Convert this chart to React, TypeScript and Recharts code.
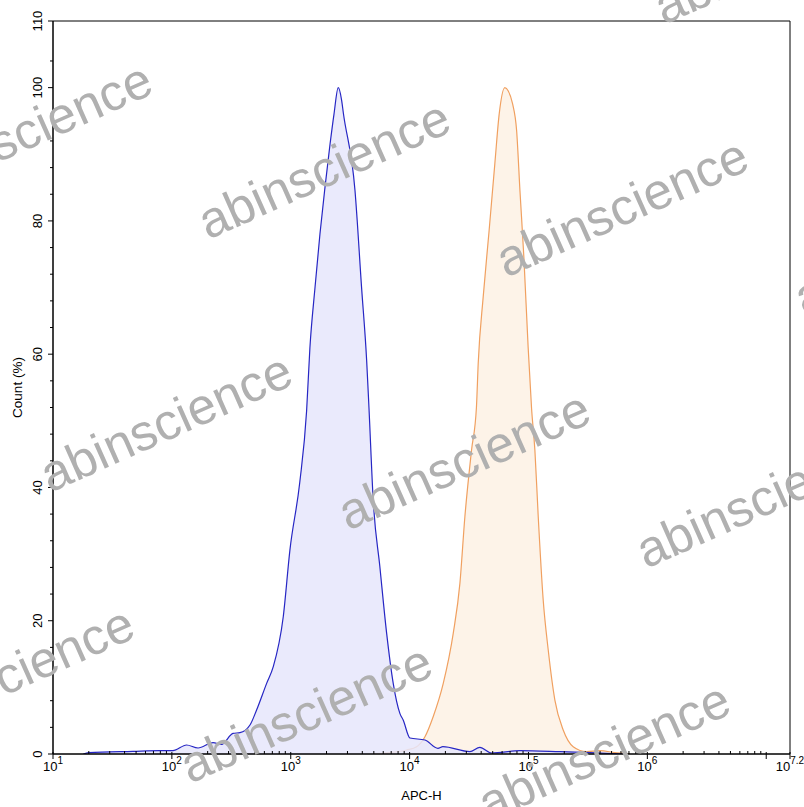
import { ComposedChart, Area, XAxis, YAxis, ReferenceArea } from 'recharts'

// APC-H intensity (log axis) and count (%)
const blueIntensity = [18, 20, 47, 79, 102, 133, 166, 222, 262, 327, 374, 454, 516, 627, 713, 865, 984, 1190, 1360, 1450, 1600, 1760, 1940, 2140, 2310, 2510, 2680, 2770, 3470, 3940, 4350, 4550, 4940, 5620, 6410, 7280, 8280, 8830, 10070, 13460, 17300, 19050, 32140, 39000, 48980, 84700, 183700, 328000, 622000]
const blueCount = [0, 0.2, 0.4, 0.5, 0.5, 1.35, 0.9, 1.7, 1.45, 3.1, 3.2, 4.35, 6.6, 10.6, 13.1, 20.6, 30.6, 40.7, 51.5, 61, 70, 78, 85, 91.5, 96, 100, 98.1, 96.2, 84.6, 70.1, 59.1, 52, 38.1, 28.1, 18.1, 10.6, 6.1, 5.1, 2.4, 2.1, 0.85, 1.1, 0.35, 1.0, 0.15, 0.5, 0.35, 0.2, 0]

const orangeIntensity = [4630, 6820, 9440, 11460, 13460, 15780, 19190, 23280, 26490, 29170, 33190, 36480, 37760, 41590, 46670, 52120, 56750, 63240, 67610, 73450, 79430, 84720, 91410, 99310, 106200, 113200, 120800, 133000, 146600, 166700, 195900, 237700, 308300, 399000, 533300, 712900]
const orangeCount = [0, 0.2, 0.6, 1.1, 2.6, 5.6, 10.6, 18.1, 25.6, 35.6, 45.6, 52, 58.6, 68.6, 78.6, 88.6, 96.1, 100, 99.5, 97.6, 93.6, 84.6, 74.6, 61.1, 51.8, 45.6, 35.6, 23.1, 15.6, 8.1, 3.6, 1.1, 0.35, 0.5, 0.2, 0]

const xMax = 10 ** 7.2
const xMajor = [10, 100, 1e3, 1e4, 1e5, 1e6, 1e7, xMax]
const xExponent = ['1', '2', '3', '4', '5', '6', '', '7.2']
const xMinor = [1, 2, 3, 4, 5, 6].flatMap((p) => [2, 3, 4, 5, 6, 7, 8, 9].map((k) => k * 10 ** p))

const yMajor = [0, 20, 40, 60, 80, 100, 110]
const yMinor = Array.from({ length: 26 }, (_, i) => (i + 1) * 4).filter((v) => v % 20 !== 0)

const blueData = blueIntensity.map((x, i) => ({ x, count: blueCount[i] }))
const orangeData = orangeIntensity.map((x, i) => ({ x, count: orangeCount[i] }))

const FONT = '"Liberation Sans", Arial, sans-serif'

const XTick = ({ x, y, payload }: any) => {
  const i = xMajor.indexOf(payload.value)
  if (i < 0) return <line x1={x} x2={x} y1={y} y2={y - 3} stroke="#000" />
  return (
    <g>
      <line x1={x} x2={x} y1={y - 2} y2={y + 5} stroke="#000" />
      {xExponent[i] && (
        <text x={x} y={y + 17} textAnchor="middle" fontSize={13} fontFamily={FONT} fill="#000">
          <tspan>10</tspan>
          <tspan dy={-7} fontSize={10}>{xExponent[i]}</tspan>
        </text>
      )}
    </g>
  )
}

const YTick = ({ x, y, payload }: any) => {
  const v = payload.value
  if (!yMajor.includes(v)) return <line x1={x - 3} x2={x} y1={y} y2={y} stroke="#000" />
  const tx = x - 11
  return (
    <g>
      <line x1={x - 5} x2={x} y1={y} y2={y} stroke="#000" />
      <text x={tx} y={y} transform={`rotate(-90 ${tx} ${y})`} textAnchor="middle" fontSize={13} fontFamily={FONT} fill="#000">
        {v}
      </text>
    </g>
  )
}

// watermark grid
const marks: { x: number; y: number }[] = []
for (let i = -1; i <= 3; i++) {
  for (let j = -1; j <= 3; j++) {
    marks.push({ x: 208 + i * 298 + j * -158, y: 240 + i * 38 + j * 253 })
  }
}

export default function App() {
  return (
    <div style={{ position: 'absolute', left: 0, top: 0, width: 804, height: 807, background: '#fff' }}>
      <ComposedChart width={804} height={807} margin={{ top: 21, right: 14, bottom: 0, left: 0 }}>
        <XAxis
          type="number"
          dataKey="x"
          scale="log"
          domain={[10, xMax]}
          allowDataOverflow
          ticks={[...xMajor, ...xMinor]}
          interval={0}
          tick={<XTick />}
          tickLine={false}
          tickSize={0}
          tickMargin={0}
          height={53}
          axisLine={{ stroke: '#000' }}
          label={({ viewBox }: any) => (
            <text x={viewBox.x + viewBox.width / 2} y={viewBox.y + 46} textAnchor="middle" fontSize={13} fontFamily={FONT} fill="#000">
              APC-H
            </text>
          )}
        />
        <YAxis
          type="number"
          domain={[0, 110]}
          allowDataOverflow
          ticks={[...yMajor, ...yMinor]}
          interval={0}
          tick={<YTick />}
          tickLine={false}
          tickSize={0}
          tickMargin={0}
          width={53}
          axisLine={{ stroke: '#000' }}
          label={({ viewBox }: any) => {
            const cx = 22
            const cy = viewBox.y + viewBox.height / 2
            return (
              <text x={cx} y={cy} transform={`rotate(-90 ${cx} ${cy})`} textAnchor="middle" fontSize={13.5} fontFamily={FONT} fill="#000">
                Count (%)
              </text>
            )
          }}
        />
        <Area
          data={orangeData}
          dataKey="count"
          type="monotone"
          stroke="#f0a060"
          strokeWidth={1.2}
          fill="#fdf3e8"
          fillOpacity={1}
          isAnimationActive={false}
          dot={false}
          activeDot={false}
        />
        <Area
          data={blueData}
          dataKey="count"
          type="monotone"
          stroke="#2626c4"
          strokeWidth={1.2}
          fill="#e6e6fb"
          fillOpacity={0.85}
          isAnimationActive={false}
          dot={false}
          activeDot={false}
        />
        <ReferenceArea x1={10} x2={xMax} y1={0} y2={110} fill="none" stroke="#000" strokeWidth={1} ifOverflow="visible" />
      </ComposedChart>
      <svg width={804} height={807} style={{ position: 'absolute', left: 0, top: 0, pointerEvents: 'none' }}>
        {marks.map((m, k) => (
          <text
            key={k}
            x={m.x}
            y={m.y}
            transform={`rotate(-24 ${m.x} ${m.y})`}
            fontSize={51}
            fontFamily={FONT}
            fill="#b0b0b0"
          >
            abinscience
          </text>
        ))}
      </svg>
    </div>
  )
}
